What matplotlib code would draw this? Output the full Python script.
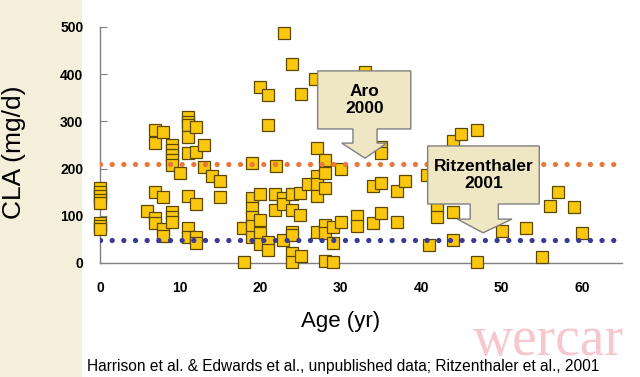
import numpy as np
import matplotlib
matplotlib.use("Agg")
import matplotlib.pyplot as plt
from matplotlib.patches import Polygon, Rectangle

plt.rcParams['font.family'] = ['Liberation Sans', 'DejaVu Sans']

# age (yr) and CLA intake (mg/d)
age = [0, 0, 0, 0, 0, 0, 0, 0,
       5.8, 6.9, 6.9, 6.9, 6.9, 6.9, 7.9, 7.9, 7.9, 7.9,
       9, 9, 9, 9, 9, 9, 9, 9, 10,
       11, 11, 11, 11, 11, 11, 11, 11, 12, 12, 12, 12, 12,
       13, 13, 14, 15, 15,
       17.8, 17.9, 18.9, 18.9, 18.9, 18.9, 18.9, 18.9,
       19.9, 19.9, 19.9, 19.9, 19.9, 20.9, 20.9, 20.9, 20.9,
       21.9, 21.8, 21.8, 22.9, 22.8, 22.8, 22.8,
       23.9, 23.9, 23.9, 23.9, 23.9, 23.9, 23.9,
       25, 24.9, 24.9, 25, 25.9,
       26.8, 27, 27, 27, 27, 27, 28, 28, 28, 28, 28, 28,
       29, 29, 29, 30, 30, 32, 32, 33, 34, 34, 35, 35, 35, 35,
       37, 37, 38, 40.7, 41, 42, 42, 44, 44, 44, 45, 47, 47,
       50, 53, 55, 56, 57, 59, 60]
cla = [159, 150, 142, 133, 127, 84, 78, 73,
       110, 282, 254, 150, 96, 85, 278, 140, 71, 57,
       250, 239, 228, 218, 208, 108, 97, 87, 190,
       309, 299, 292, 267, 233, 142, 74, 55, 288, 235, 125, 55, 42,
       250, 203, 184, 174, 140,
       74, 2, 212, 138, 117, 97, 78, 55,
       373, 146, 91, 64, 40, 356, 292, 44, 28,
       205, 146, 112, 487, 138, 125, 49,
       421, 146, 112, 66, 59, 21, 2,
       358, 148, 102, 15, 167,
       390, 244, 184, 167, 142, 66, 218, 191, 159, 80, 64, 4,
       76, 42, 2, 199, 87, 100, 78, 405, 163, 85, 246, 233, 170, 106,
       153, 87, 174, 186, 38, 119, 97, 258, 108, 49, 273, 282, 2,
       68, 74, 13, 121, 151, 119, 63]

upper_ref = 210   # Aro 2000
lower_ref = 49    # Ritzenthaler 2001
x_ticks = [0, 10, 20, 30, 40, 50, 60]
y_ticks = [0, 100, 200, 300, 400, 500]

fig = plt.figure(figsize=(6.4, 3.77), dpi=100)
fig.patch.set_facecolor('white')
# beige strip on the left of the slide
fig.patches.append(Rectangle((0, 0), 82 / 640, 1, transform=fig.transFigure,
                             facecolor='#f3efdb', edgecolor='none', zorder=0))

ax = fig.add_axes([100 / 640, 1 - 263 / 377, 522 / 640, 236 / 377])
ax.set_zorder(2)
ax.set_facecolor('none')
ax.set_xlim(0, 65)
ax.set_ylim(0, 500)

ax.plot(age, cla, 's', ms=8, mfc='#f9c80e', mec='#5c4800', mew=0.9,
        clip_on=False, zorder=3)

ax.plot([0, 65], [upper_ref, upper_ref], color='#e8783c', lw=3.8,
        linestyle=(0, (0.01, 2.2)), dash_capstyle='round', zorder=4)
ax.plot([0, 65], [lower_ref, lower_ref], color='#3a3a96', lw=3.8,
        linestyle=(0, (0.01, 2.2)), dash_capstyle='round', zorder=4)


def callout(x0, x1, ytop, ybot, sl, sr, hl, hr, hy, tx, ty, text):
    pts = [(x0, ytop), (x1, ytop), (x1, ybot), (sr, ybot), (sr, hy),
           (hr, hy), (tx, ty), (hl, hy), (sl, hy), (sl, ybot), (x0, ybot)]
    ax.add_patch(Polygon(pts, closed=True, facecolor='#efe7c4',
                         edgecolor='#7f7f7f', lw=1, zorder=5, clip_on=False))
    ax.text((x0 + x1) / 2, (ytop + ybot) / 2, text, ha='center', va='center',
            fontsize=12.5, fontweight='bold', linespacing=1.2, zorder=6)


callout(27.1, 38.7, 407, 284, 31.5, 34.5, 30.1, 35.7, 254, 33.0, 222, 'Aro\n2000')
callout(40.8, 54.7, 248, 125, 46.1, 49.6, 44.5, 51.3, 93, 47.7, 64,
        'Ritzenthaler\n2001')

for s in ['top', 'right']:
    ax.spines[s].set_visible(False)
for s in ['left', 'bottom']:
    ax.spines[s].set_color('#808080')
    ax.spines[s].set_linewidth(1.0)

ax.set_xticks(x_ticks)
ax.set_yticks(y_ticks)
ax.tick_params(axis='y', direction='in', length=5, color='#808080', pad=12,
               labelsize=10)
ax.tick_params(axis='x', length=0, pad=13, labelsize=10)
for lab in ax.get_xticklabels() + ax.get_yticklabels():
    lab.set_fontweight('bold')

fig.text(14 / 640, 1 - 152 / 377, 'CLA (mg/d)', rotation=90, ha='center',
         va='center', fontsize=19)
fig.text(341 / 640, 1 - 322 / 377, 'Age (yr)', ha='center', va='center',
         fontsize=16)
fig.text(548 / 640, 1 - 341 / 377, 'wercar', ha='center', va='center',
         fontsize=40, family='Liberation Serif', color='#f6c8cd', zorder=1)
fig.text(87 / 640, 1 - 366 / 377,
         'Harrison et al. & Edwards et al., unpublished data; Ritzenthaler et al., 2001',
         ha='left', va='center', fontsize=11.2, zorder=2)

fig.savefig('out.png', dpi=100)
